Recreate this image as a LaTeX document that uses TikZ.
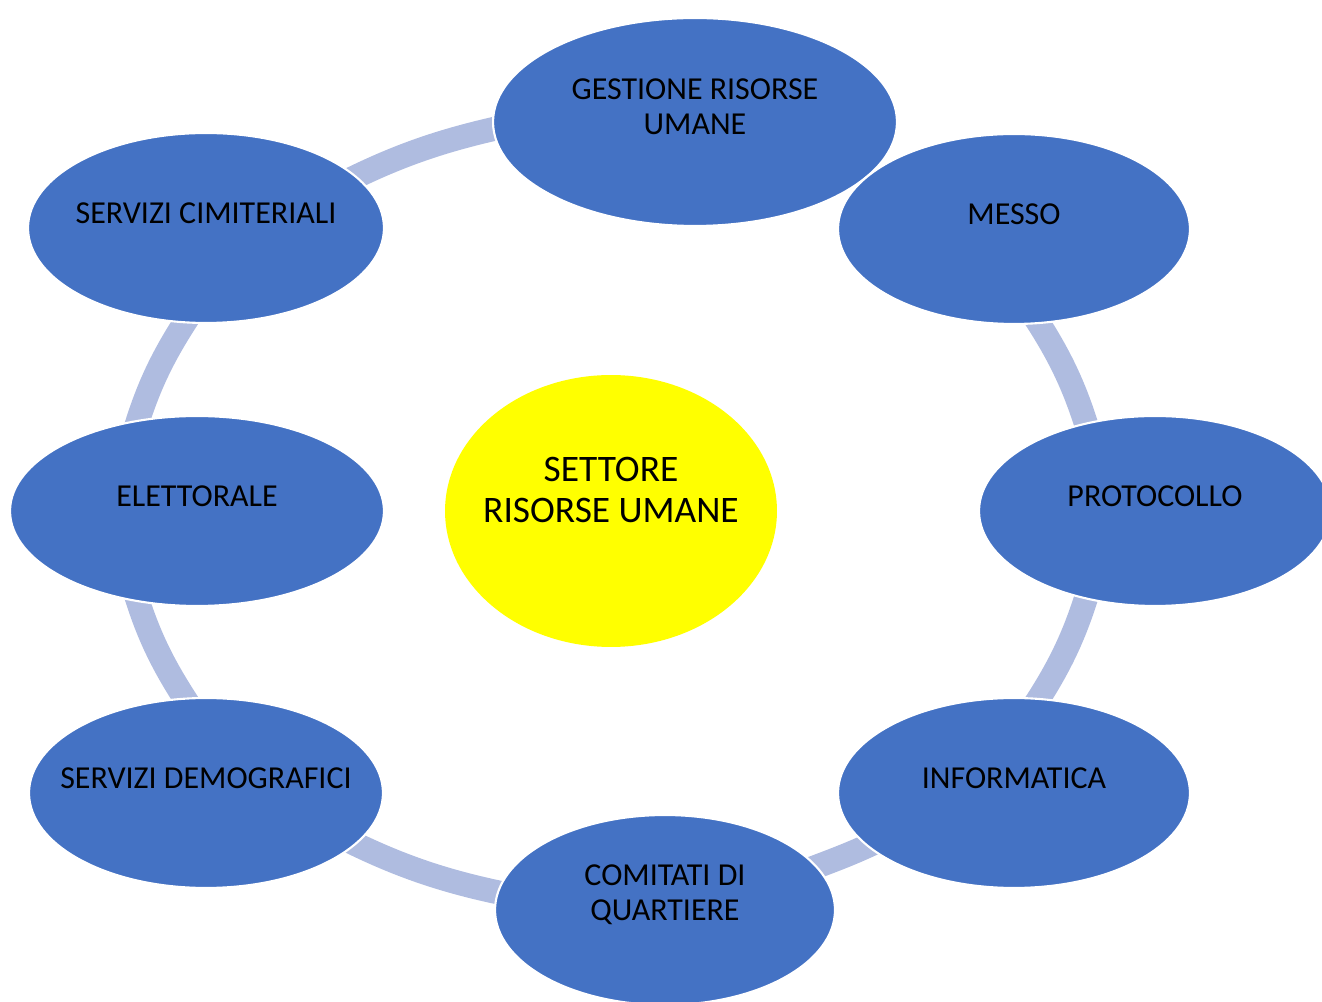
\documentclass[tikz,border=0pt]{standalone}
\usepackage{fontspec}
\setmainfont{Carlito}
\usepackage{tikz}
\usetikzlibrary{shapes,backgrounds}
\definecolor{boxblue}{RGB}{68, 114, 196}
\definecolor{ringblue}{RGB}{175, 188, 224}
\definecolor{sunyellow}{RGB}{255, 255, 0}

\begin{document}
\begin{tikzpicture}[x=0.02cm, y=0.02cm,
    blob/.style={ellipse, fill=boxblue, draw=white, line width=1.2pt, inner sep=0pt, minimum width=7.04cm, minimum height=3.8cm},
    lbl/.style={align=center, inner sep=0pt, text=black, font=\fontsize{18.2}{19.8}\selectfont},
    ring/.style={ringblue, line width=0.48cm, looseness=0.85, shorten <=-12pt, shorten >=-12pt}]
    \useasboundingbox (0,0) rectangle (1322,1001);

    % Offices around the sector
    \node[blob, minimum width=8.08cm, minimum height=4.16cm] (gest) at (695,879) {};
    \node[blob] (messo) at (1014,772) {};
    \node[blob] (proto) at (1155,490) {};
    \node[blob] (info) at (1014,208) {};
    \node[blob, minimum width=6.8cm] (comit) at (665,91) {};
    \node[blob, minimum width=7.08cm] (demo) at (206,208) {};
    \node[blob, minimum width=7.48cm] (elet) at (197,490) {};
    \node[blob, minimum width=7.12cm] (cim) at (206,773) {};

    \node[lbl] (gestT) at ([yshift=0.3cm]gest.center) {GESTIONE RISORSE\\UMANE};
    \node[lbl] (messoT) at ([yshift=0.3cm]messo.center) {MESSO};
    \node[lbl] (protoT) at ([yshift=0.3cm]proto.center) {PROTOCOLLO};
    \node[lbl] (infoT) at ([yshift=0.3cm]info.center) {INFORMATICA};
    \node[lbl] (comitT) at ([yshift=0.3cm]comit.center) {COMITATI DI\\QUARTIERE};
    \node[lbl] (demoT) at ([yshift=0.3cm]demo.center) {SERVIZI DEMOGRAFICI};
    \node[lbl] (eletT) at ([yshift=0.3cm]elet.center) {ELETTORALE};
    \node[lbl] (cimT) at ([yshift=0.3cm]cim.center) {SERVIZI CIMITERIALI};

    % Sector in the middle
    \node[ellipse, fill=sunyellow, inner sep=0pt, minimum width=6.64cm, minimum height=5.44cm] (settore) at (611,490) {};
    \node[lbl, font=\fontsize{21.3}{23.8}\selectfont] (settoreT) at ([yshift=0.42cm]settore.center) {SETTORE\\RISORSE UMANE};

    % Ring
    \begin{scope}[on background layer]
        \draw[ring] (cim.19) to[out=27, in=192] (gest.182);
        \draw[ring] (elet.123) to[out=74, in=236] (cim.257);
        \draw[ring] (demo.103) to[out=124, in=286] (elet.237);
        \draw[ring] (comit.174) to[out=169, in=333] (demo.341);
        \draw[ring] (info.200) to[out=206, in=21] (comit.16);
        \draw[ring] (proto.232) to[out=254, in=56] (info.75);
        \draw[ring] (messo.285) to[out=304, in=106] (proto.128);
    \end{scope}
\end{tikzpicture}
\end{document}
